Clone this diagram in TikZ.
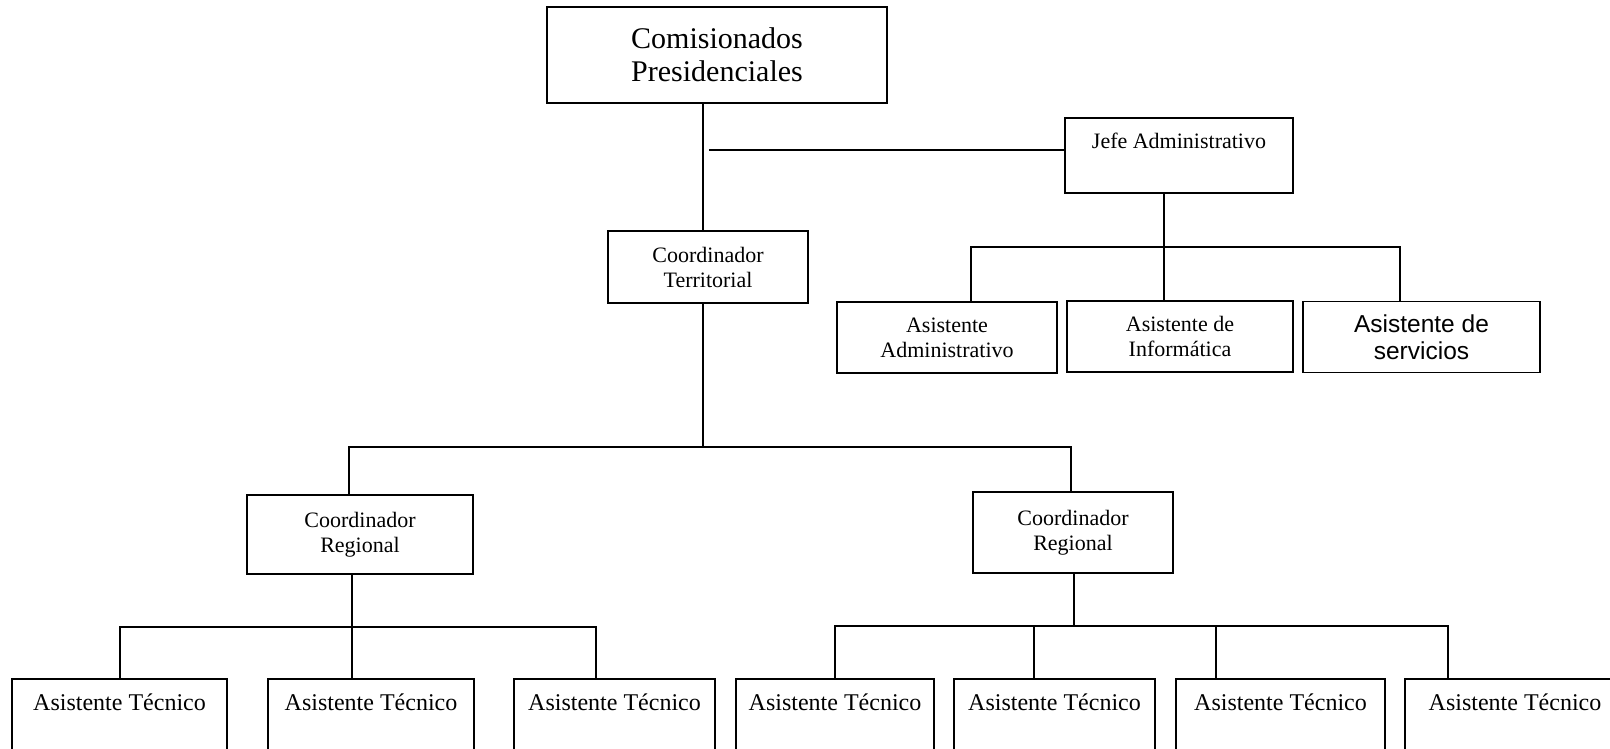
\documentclass[tikz,border=0pt]{standalone}
\usepackage{fontspec}
\setmainfont{Liberation Serif}
\newfontfamily\sansf{Liberation Sans}
\begin{document}
\begin{tikzpicture}[x=1pt,y=-1pt,
  orgbox/.style={draw, line width=1.3pt, rectangle, inner sep=0pt, align=center,
    font=\fontsize{22}{25}\selectfont},
  lowbox/.style={orgbox, minimum height=91pt, text height=16pt, text depth=45pt,
    font=\fontsize{24}{27}\selectfont},
  conn/.style={line width=1.3pt}]
\clip (0,0) rectangle (1610,749);
\fill[white] (0,0) rectangle (1610,749);

% nodes
\node[orgbox, minimum width=340pt, minimum height=96pt, font=\fontsize{30}{33}\selectfont]
  (top) at (717,55) {Comisionados\\Presidenciales};
\node[orgbox, minimum width=200pt, minimum height=72pt] (terr) at (708,267) {Coordinador\\Territorial};
\node[orgbox, minimum width=228pt, minimum height=75pt, text height=15pt, text depth=28pt]
  (jefe) at (1179,155.5) {Jefe Administrativo};
\node[orgbox, minimum width=220pt, minimum height=71pt] (adm) at (947,337.5) {Asistente\\Administrativo};
\node[orgbox, minimum width=226pt, minimum height=71pt] (inf) at (1180,336.5) {Asistente de\\Informática};
\node[orgbox, minimum width=237pt, minimum height=71pt, font=\sansf\fontsize{24.5}{27}\selectfont]
  (serv) at (1421.5,337) {Asistente de\\servicios};
\node[orgbox, minimum width=226pt, minimum height=79pt] (regL) at (360,534.5) {Coordinador\\Regional};
\node[orgbox, minimum width=200pt, minimum height=81pt] (regR) at (1073,532.5) {Coordinador\\Regional};

\node[lowbox, minimum width=215pt] (t1) at (119.5,724.5) {Asistente Técnico};
\node[lowbox, minimum width=206pt] (t2) at (371,724.5) {Asistente Técnico};
\node[lowbox, minimum width=201pt] (t3) at (614.5,724.5) {Asistente Técnico};
\node[lowbox, minimum width=198pt] (t4) at (835,724.5) {Asistente Técnico};
\node[lowbox, minimum width=201pt] (t5) at (1054.5,724.5) {Asistente Técnico};
\node[lowbox, minimum width=209pt] (t6) at (1280.5,724.5) {Asistente Técnico};
\node[lowbox, minimum width=220pt] (t7) at (1515,724.5) {Asistente Técnico};

% junction coordinates
\coordinate (busT) at (703,447);
\coordinate (jl) at (709,150);
\coordinate (jb) at (1164,247);
\coordinate (dA) at (971,247);
\coordinate (dS) at (1400,247);
\coordinate (dL) at (349,447);
\coordinate (dR) at (1071,447);
\coordinate (lb) at (352,627);
\coordinate (l1) at (120,627);
\coordinate (l3) at (596,627);
\coordinate (rb) at (1074,626);
\coordinate (r4) at (835,626);
\coordinate (r5) at (1034,626);
\coordinate (r6) at (1216,626);
\coordinate (r7) at (1448,626);

% connectors
\draw[conn] (top.south -| busT) -- (terr.north -| busT);
\draw[conn] (terr.south -| busT) -- (busT);
\draw[conn] (jl) -- (jefe.west |- jl);
\draw[conn] (jefe.south -| jb) -- (inf.north -| jb);
\draw[conn] (adm.north -| dA) -- (dA) -- (dS) -- (serv.north -| dS);
\draw[conn] (regL.north -| dL) -- (dL) -- (dR) -- (regR.north -| dR);
\draw[conn] (regL.south -| lb) -- (t2.north -| lb);
\draw[conn] (t1.north -| l1) -- (l1) -- (l3) -- (t3.north -| l3);
\draw[conn] (regR.south -| rb) -- (rb);
\draw[conn] (t4.north -| r4) -- (r4) -- (r7) -- (t7.north -| r7);
\draw[conn] (r5) -- (t5.north -| r5);
\draw[conn] (r6) -- (t6.north -| r6);
\end{tikzpicture}
\end{document}
